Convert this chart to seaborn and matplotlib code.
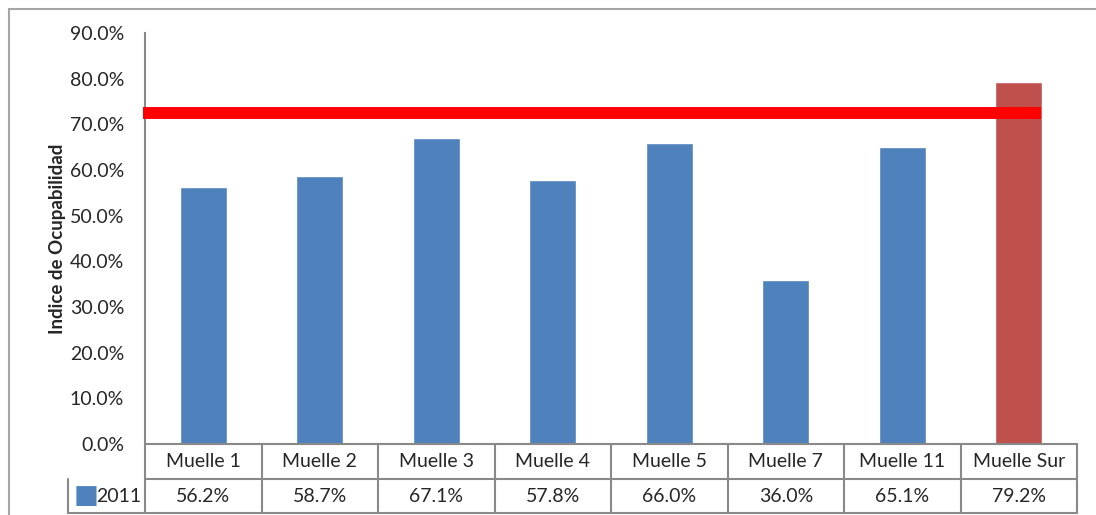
import matplotlib
matplotlib.use("Agg")
import matplotlib.pyplot as plt
import seaborn as sns
import pandas as pd
from matplotlib.lines import Line2D

# Chart data
muelles = ["Muelle 1", "Muelle 2", "Muelle 3", "Muelle 4", "Muelle 5", "Muelle 7", "Muelle 11", "Muelle Sur"]
valores_2011 = [56.2, 58.7, 67.1, 57.8, 66.0, 36.0, 65.1, 79.2]
meta = 72.5
serie = "2011"

azul = "#4F81BD"
rojo = "#C0504D"
gris = "#898989"
colores = [azul] * 7 + [rojo]

df = pd.DataFrame({"muelle": muelles, "valor": valores_2011})

sns.set_style("white")
plt.rcParams["font.family"] = ["Lato", "DejaVu Sans"]

fig = plt.figure(figsize=(10.96, 5.15), dpi=100)
ax = fig.add_axes([145 / 1096, 71 / 515, 932 / 1096, 411 / 515])

sns.barplot(data=df, x="muelle", y="valor", hue="muelle", palette=colores,
            width=0.4, legend=False, ax=ax, saturation=1)

# target line
ax.plot([-0.52, 7.19], [meta, meta], color="#FF0000", lw=8.6,
        solid_capstyle="butt", clip_on=False, zorder=5)

ax.set_xlim(-0.5, len(muelles) - 0.5)
ax.set_ylim(0, 90)
ax.set_yticks(range(0, 91, 10))
ax.set_yticklabels([f"{v:.1f}%" for v in range(0, 91, 10)], fontsize=14)
ax.tick_params(axis="y", length=0, pad=15)
ax.set_xticks([])
ax.set_xlabel("")
ax.set_ylabel("Indice de Ocupabilidad", fontsize=13.5, fontweight="bold", labelpad=3)
for s in ["top", "right", "bottom"]:
    ax.spines[s].set_visible(False)
ax.spines["left"].set_color(gris)
ax.spines["left"].set_linewidth(1.5)

# data table below the axis
tr = ax.get_xaxis_transform()
h1 = -35 / 411
h2 = -69 / 411
n = len(muelles)
kw = dict(color=gris, lw=1.5, transform=tr, clip_on=False)
for yy in [0, h1]:
    ax.add_line(Line2D([-0.5, n - 0.5], [yy, yy], **kw))
left_col = -0.5 - 77 / 116.5
ax.add_line(Line2D([left_col, n - 0.5], [h2, h2], **kw))
ax.add_line(Line2D([left_col, left_col], [h1, h2], **kw))
for i in range(n + 1):
    ax.add_line(Line2D([i - 0.5, i - 0.5], [0, h2], **kw))
for i, (m, v) in enumerate(zip(muelles, valores_2011)):
    ax.text(i, h1 / 2, m, transform=tr, ha="center", va="center", fontsize=14)
    ax.text(i, (h1 + h2) / 2, f"{v:.1f}%", transform=tr, ha="center", va="center", fontsize=14)
ax.text(left_col + 0.05, (h1 + h2) / 2, "\u25A0", transform=tr, ha="left", va="center",
        fontsize=19, color=azul, family="DejaVu Sans")
ax.text(-0.53, (h1 + h2) / 2, serie, transform=tr, ha="right", va="center", fontsize=14)

# outer chart frame
fig.add_artist(Line2D([9 / 1096, 9 / 1096], [0, 1 - 9 / 515], color="#A6A6A6", lw=1.5))
fig.add_artist(Line2D([9 / 1096, 1], [1 - 9 / 515, 1 - 9 / 515], color="#A6A6A6", lw=1.5))

fig.savefig("out.png", dpi=100)
